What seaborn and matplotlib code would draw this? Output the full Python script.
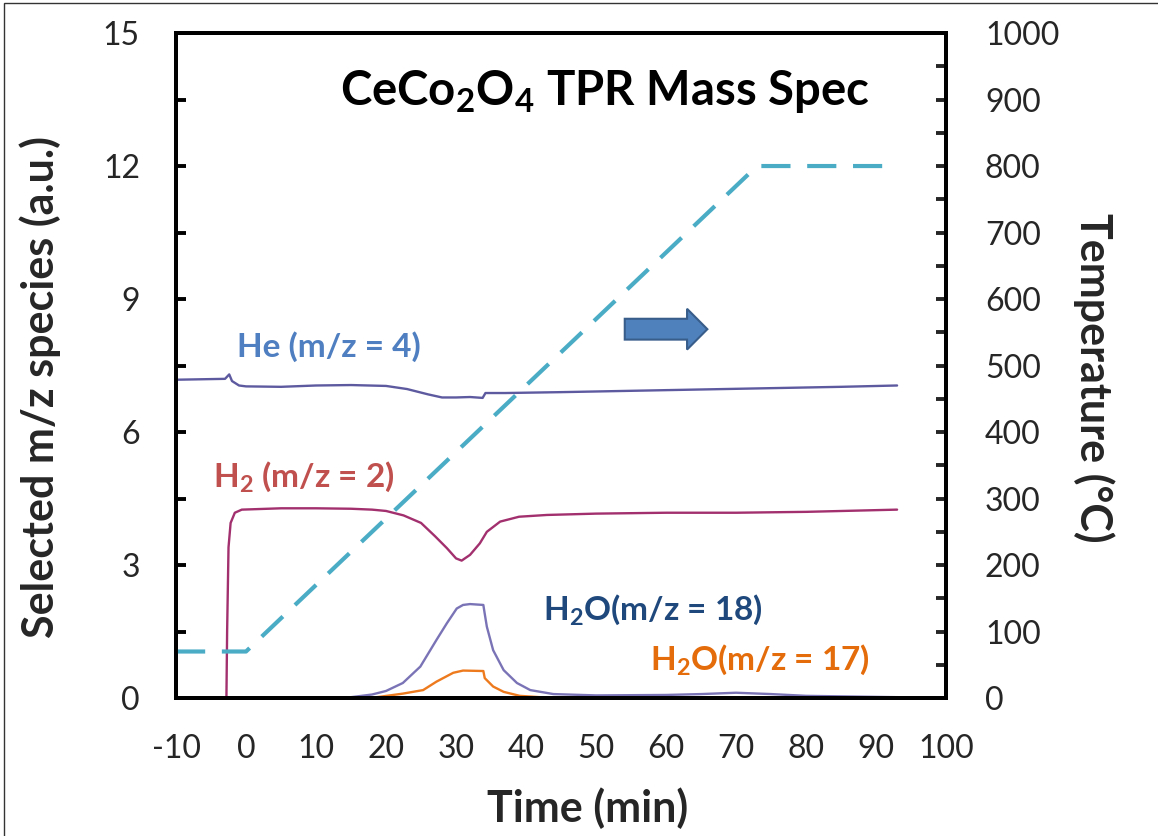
import numpy as np
import pandas as pd
import matplotlib
matplotlib.use("Agg")
import matplotlib.pyplot as plt
import matplotlib.patches as mpatches
from matplotlib.ticker import MultipleLocator
import seaborn as sns

sns.set_style("white")
plt.rcParams["font.family"] = ["Lato", "DejaVu Sans"]
plt.rcParams["mathtext.fontset"] = "custom"
plt.rcParams["mathtext.rm"] = "Lato"
plt.rcParams["mathtext.bf"] = "Lato:bold"

# Time axis (min) and mass-spec signals (a.u.)
he_t = [-10, -3.0, -2.4, -2.0, -1.0, 0, 5, 10, 15, 20, 23, 26, 28, 30, 32, 33.8, 34.2,
        37, 45, 55, 65, 75, 85, 93]
he_v = [7.18, 7.20, 7.30, 7.15, 7.05, 7.03, 7.02, 7.05, 7.06, 7.04, 6.97, 6.85, 6.78,
        6.78, 6.79, 6.77, 6.88, 6.88, 6.90, 6.93, 6.96, 6.99, 7.02, 7.05]

h2_t = [-10, -2.8, -2.7, -2.5, -2.2, -1.6, -0.6, 5, 10, 15, 18, 20, 22.5, 25, 27, 28.7,
        30, 30.8, 32, 33.4, 34.4, 36.3, 39, 43, 50, 60, 70, 80, 93]
h2_v = [0, 0, 1.5, 3.4, 3.95, 4.18, 4.25, 4.28, 4.28, 4.27, 4.25, 4.22, 4.12, 3.95, 3.65,
        3.38, 3.15, 3.10, 3.23, 3.49, 3.75, 3.98, 4.09, 4.13, 4.16, 4.18, 4.18, 4.20, 4.25]

w18_t = [-10, 10, 15, 18, 20, 22.4, 24.9, 27.2, 28.7, 30.1, 31, 32, 33.9, 34.1, 34.4,
         35.3, 36.8, 38.7, 40.6, 43.9, 50, 60, 65, 70, 75, 80, 93]
w18_v = [0, 0, 0.02, 0.08, 0.16, 0.34, 0.71, 1.31, 1.69, 2.02, 2.10, 2.12, 2.10, 1.90,
         1.61, 1.08, 0.63, 0.34, 0.18, 0.09, 0.06, 0.07, 0.09, 0.12, 0.09, 0.05, 0.02]

w17_t = [-10, 15, 18.7, 22.4, 25.3, 27.2, 29.6, 31, 33.9, 34.1, 35.3, 36.8, 39.1, 42, 93]
w17_v = [0, 0, 0.02, 0.10, 0.18, 0.37, 0.57, 0.62, 0.61, 0.45, 0.26, 0.14, 0.05, 0.02, 0.01]

# Furnace temperature program (°C)
temp_t = [-10, 0, 73, 93]
temp_v = [70, 70, 800, 800]

x_ticks = list(range(-10, 101, 10))
left_ticks = [0, 3, 6, 9, 12, 15]
right_ticks = list(range(0, 1001, 100))

fig = plt.figure(figsize=(11.58, 8.36), dpi=100)
ax = fig.add_axes([0.152, 0.165, 0.665, 0.7955])

series = [
    (he_t, he_v, "#5E5AA0"),
    (h2_t, h2_v, "#A2306E"),
    (w18_t, w18_v, "#7A74B6"),
    (w17_t, w17_v, "#EE7A1E"),
]
for t, v, c in series:
    df = pd.DataFrame({"t": t, "v": v})
    sns.lineplot(data=df, x="t", y="v", ax=ax, color=c, lw=1.7, sort=False,
                 estimator=None, legend=False)

ax.set_xlim(-10, 100)
ax.set_ylim(0, 15)
ax.set_xticks(x_ticks)
ax.set_xticklabels([str(v) for v in x_ticks])
ax.set_yticks(left_ticks)
ax.xaxis.set_minor_locator(MultipleLocator(5))
ax.yaxis.set_minor_locator(MultipleLocator(1.5))
ax.tick_params(axis="both", which="both", direction="in", length=7, width=2.8,
               color="black", labelsize=23)
ax.tick_params(axis="x", which="both", pad=26)
ax.tick_params(axis="y", which="both", pad=26, right=False)
ax.set_xlabel("Time (min)", fontsize=31, fontweight="bold", labelpad=17)
ax.set_ylabel("Selected m/z species (a.u.)", fontsize=31, fontweight="bold", labelpad=30)
ax.xaxis.label.set_x(0.535)
ax.yaxis.label.set_y(0.468)

ax2 = ax.twinx()
tdf = pd.DataFrame({"t": temp_t, "T": temp_v})
sns.lineplot(data=tdf, x="t", y="T", ax=ax2, color="#4BACC6", lw=3.0,
             estimator=None, legend=False, dashes=False)
ax2.lines[-1].set_dashes([7, 4])
ax2.set_ylim(0, 1000)
ax2.set_yticks(right_ticks)
ax2.yaxis.set_minor_locator(MultipleLocator(50))
ax2.tick_params(axis="y", which="both", direction="in", length=7, width=2.8,
                labelsize=23, pad=28)
ax2.set_ylabel("Temperature (°C)", fontsize=31, fontweight="bold", rotation=270,
               labelpad=40)
ax2.yaxis.label.set_y(0.481)

for a in (ax, ax2):
    for s in a.spines.values():
        s.set_linewidth(2.8)
        s.set_color("black")

# Annotations
ax.text(13.4, 13.67, r"CeCo$_\mathbf{2}$O$_\mathbf{4}$ TPR Mass Spec", fontsize=34,
        fontweight="bold", ha="left", va="center", color="black")
ax.text(-1.3, 7.92, "He (m/z = 4)", fontsize=24, fontweight="bold", color="#4F7FC0",
        ha="left", va="center")
ax.text(-4.7, 4.99, r"H$_\mathbf{2}$ (m/z = 2)", fontsize=24, fontweight="bold",
        color="#C0504D", ha="left", va="center")
ax.text(42.4, 1.99, r"H$_\mathbf{2}$O(m/z = 18)", fontsize=24, fontweight="bold",
        color="#1F497D", ha="left", va="center")
ax.text(57.7, 0.86, r"H$_\mathbf{2}$O(m/z = 17)", fontsize=24, fontweight="bold",
        color="#E46C0A", ha="left", va="center")

arrow = mpatches.FancyArrow(54.1, 8.32, 11.8, 0, width=0.47, head_width=0.92,
                            head_length=2.9, length_includes_head=True,
                            facecolor="#4F81BD", edgecolor="#385D8A", lw=1.5, zorder=5)
ax.add_patch(arrow)

# Thin frame around the figure
fig.patches.append(mpatches.Rectangle((0.0035, -0.05), 1.2, 0.9964 + 0.05,
                                      transform=fig.transFigure, fill=False,
                                      edgecolor="#333333", lw=1.0))

fig.savefig("out.png", dpi=100)
